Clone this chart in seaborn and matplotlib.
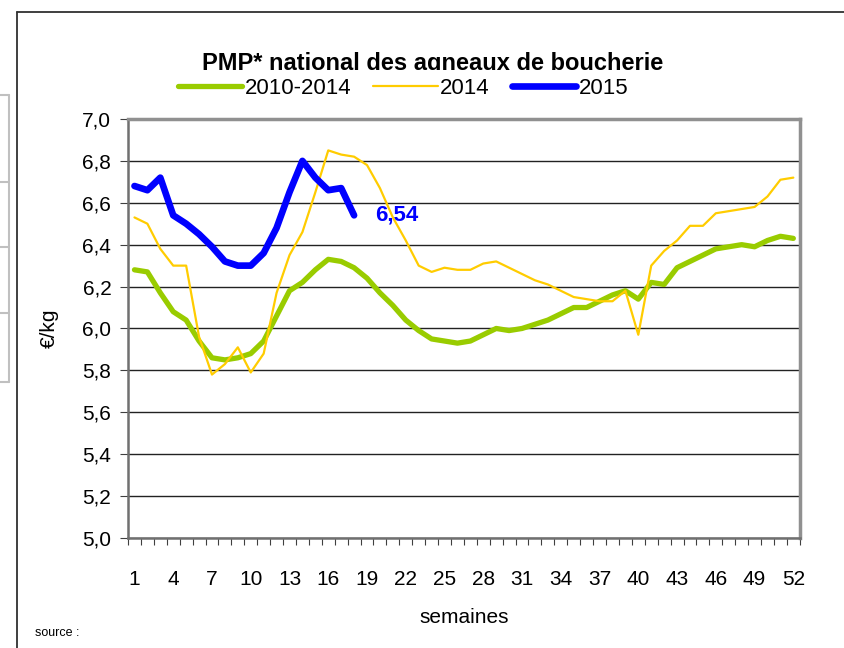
import matplotlib
matplotlib.use("Agg")
import matplotlib.pyplot as plt
from matplotlib.lines import Line2D
import seaborn as sns

# weekly national average price, lambs (€/kg)
weeks = list(range(1, 53))
avg_2010_2014 = [6.28, 6.27, 6.17, 6.08, 6.04, 5.94, 5.86, 5.85, 5.86, 5.88,
                 5.94, 6.06, 6.18, 6.22, 6.28, 6.33, 6.32, 6.29, 6.24, 6.17,
                 6.11, 6.04, 5.99, 5.95, 5.94, 5.93, 5.94, 5.97, 6.00, 5.99,
                 6.00, 6.02, 6.04, 6.07, 6.10, 6.10, 6.13, 6.16, 6.18, 6.14,
                 6.22, 6.21, 6.29, 6.32, 6.35, 6.38, 6.39, 6.40, 6.39, 6.42,
                 6.44, 6.43]
prices_2014 = [6.53, 6.50, 6.38, 6.30, 6.30, 5.96, 5.78, 5.83, 5.91, 5.79,
               5.88, 6.17, 6.35, 6.46, 6.65, 6.85, 6.83, 6.82, 6.78, 6.67,
               6.53, 6.42, 6.30, 6.27, 6.29, 6.28, 6.28, 6.31, 6.32, 6.29,
               6.26, 6.23, 6.21, 6.18, 6.15, 6.14, 6.13, 6.13, 6.18, 5.97,
               6.30, 6.37, 6.42, 6.49, 6.49, 6.55, 6.56, 6.57, 6.58, 6.63,
               6.71, 6.72]
prices_2015 = [6.68, 6.66, 6.72, 6.54, 6.50, 6.45, 6.39, 6.32, 6.30, 6.30,
               6.36, 6.48, 6.65, 6.80, 6.72, 6.66, 6.67, 6.54]
series_names = ["2010-2014", "2014", "2015"]
last_label = "6,54"
y_ticks = [5.0, 5.2, 5.4, 5.6, 5.8, 6.0, 6.2, 6.4, 6.6, 6.8, 7.0]
x_ticks = list(range(1, 53, 3))

GREEN = "#99CC00"
YELLOW = "#FFCC00"
BLUE = "#0000FF"

sns.set_style("white")
plt.rcParams["font.family"] = ["Liberation Sans", "DejaVu Sans"]
plt.rcParams["text.color"] = "black"
plt.rcParams["axes.labelcolor"] = "black"
plt.rcParams["xtick.color"] = "black"
plt.rcParams["ytick.color"] = "black"

fig = plt.figure(figsize=(8.45, 6.48), dpi=100)
ax = fig.add_axes([0.1515, 0.1698, 0.795, 0.6466])

sns.lineplot(x=weeks, y=avg_2010_2014, color=GREEN, linewidth=3.8, ax=ax,
             solid_capstyle="round", solid_joinstyle="round", zorder=3)
sns.lineplot(x=weeks, y=prices_2014, color=YELLOW, linewidth=1.6, ax=ax,
             solid_capstyle="round", zorder=4)
sns.lineplot(x=weeks[:len(prices_2015)], y=prices_2015, color=BLUE, linewidth=4.8,
             ax=ax, solid_capstyle="round", solid_joinstyle="round", zorder=5)

ax.set_xlim(0.5, 52.5)
ax.set_ylim(5.0, 7.0)
ax.set_yticks(y_ticks)
ax.set_yticklabels([f"{v:.1f}".replace(".", ",") for v in y_ticks], fontsize=15)
ax.set_xticks(x_ticks)
ax.set_xticklabels([str(w) for w in x_ticks], fontsize=15)
ax.set_xticks([w + 0.5 for w in range(0, 53)], minor=True)
ax.tick_params(axis="x", which="major", length=0, pad=23)
ax.tick_params(axis="x", which="minor", length=5, width=0.8, color="#404040",
               direction="out", bottom=True)
ax.tick_params(axis="y", length=6, width=0.8, color="#404040", direction="out",
               left=True, pad=6)

ax.grid(axis="y", color="#222222", linewidth=1.0)
ax.grid(axis="x", visible=False)
ax.set_axisbelow(True)
for side in ["left", "bottom"]:
    ax.spines[side].set_color("#707070")
    ax.spines[side].set_linewidth(1.8)
for side in ["top", "right"]:
    ax.spines[side].set_color("#909090")
    ax.spines[side].set_linewidth(2.5)

ax.set_xlabel("semaines", fontsize=15, labelpad=14)
ax.set_ylabel("€/kg", fontsize=15, labelpad=17)

ax.text(19.6, prices_2015[-1], last_label, color=BLUE, fontsize=16,
        fontweight="bold", ha="left", va="center")

# title, partly hidden by the legend underneath
fig.text(0.512, 0.902, "PMP* national des agneaux de boucherie", fontsize=17,
         fontweight="bold", ha="center", va="center")
handles = [Line2D([], [], color=GREEN, linewidth=3.8, solid_capstyle="round"),
           Line2D([], [], color=YELLOW, linewidth=1.6, solid_capstyle="round"),
           Line2D([], [], color=BLUE, linewidth=4.8, solid_capstyle="round")]
leg = fig.legend(handles, series_names, loc="center", bbox_to_anchor=(0.477, 0.864),
                 ncol=3, frameon=True, fontsize=16, handlelength=2.9,
                 handletextpad=0.1, columnspacing=1.0, borderpad=0.35,
                 edgecolor="none", facecolor="white", framealpha=1.0)
leg.get_frame().set_boxstyle("square", pad=0)

fig.text(0.041, 0.023, "source :", fontsize=9, ha="left", va="center")

# chart frame and bits of the surrounding page
W, H = 845.0, 648.0
fig.add_artist(Line2D([17 / W, 17 / W], [0, 1 - 12 / H], color="#303030",
                      linewidth=1.3, transform=fig.transFigure))
fig.add_artist(Line2D([17 / W, 1], [1 - 12 / H, 1 - 12 / H], color="#303030",
                      linewidth=1.3, transform=fig.transFigure))
fig.add_artist(Line2D([9 / W, 9 / W], [1 - 95 / H, 1 - 382 / H], color="#c0c0c0",
                      linewidth=1.5, transform=fig.transFigure))
for yy in [95, 182, 247, 313, 382]:
    fig.add_artist(Line2D([0, 9 / W], [1 - yy / H, 1 - yy / H], color="#c0c0c0",
                          linewidth=1.5, transform=fig.transFigure))

fig.savefig("out.png", dpi=100)
